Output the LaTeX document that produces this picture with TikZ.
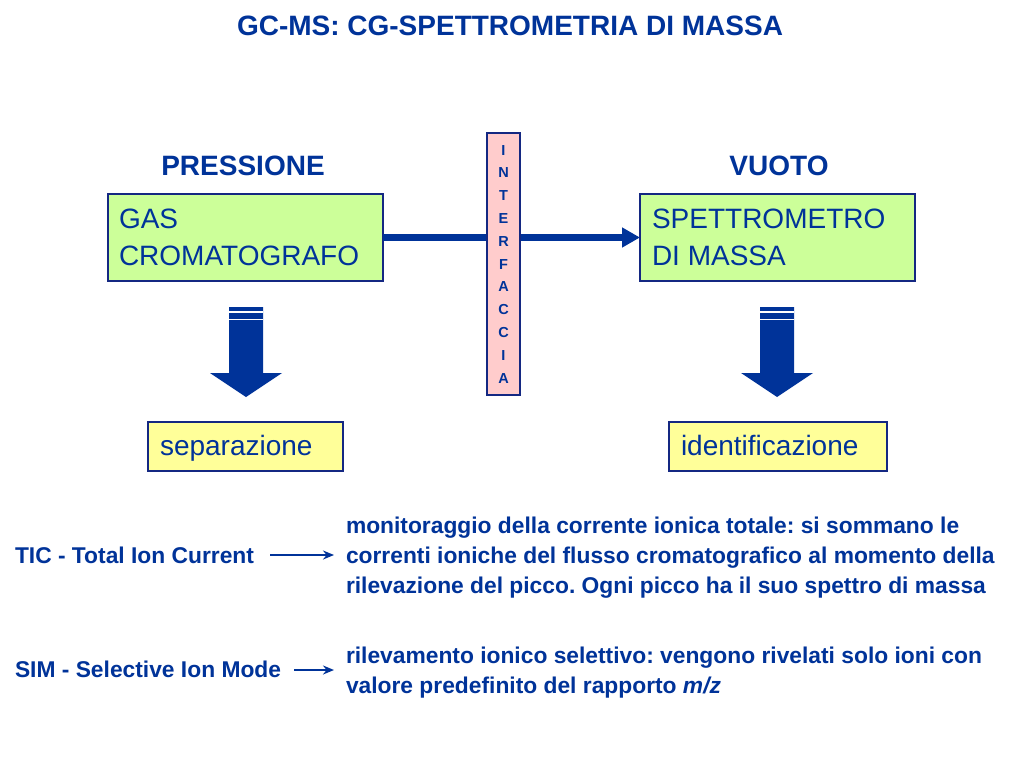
\documentclass[tikz,border=0pt]{standalone}
\usepackage{fontspec}
\setmainfont{Liberation Sans}
\usetikzlibrary{arrows.meta}
\frenchspacing
\definecolor{tblue}{RGB}{0,51,153}
\definecolor{bblue}{RGB}{20,40,130}
\definecolor{boxgreen}{RGB}{204,255,153}
\definecolor{boxyellow}{RGB}{255,255,153}
\definecolor{boxpink}{RGB}{255,204,204}
\tikzset{
  every node/.style={text=tblue, inner sep=0pt, outer sep=0pt},
  bigbox/.style={draw=bblue, line width=2pt, fill=boxgreen, minimum width=275pt, minimum height=87pt, anchor=north west},
  resbox/.style={draw=bblue, line width=2pt, fill=boxyellow, minimum height=49pt, anchor=north west},
  boxtxt/.style={anchor=base west, font=\fontsize{28}{32}\selectfont},
  headtxt/.style={anchor=base, font=\fontsize{28}{32}\selectfont\bfseries},
  bodytxt/.style={anchor=base west, font=\fontsize{22.8}{26}\selectfont\bfseries},
  iftxt/.style={anchor=base, font=\fontsize{14.5}{16}\selectfont\bfseries},
  blockarrow/.style={fill=tblue, draw=none},
  thinarrow/.style={draw=tblue, line width=2pt, -{Stealth[length=11pt,width=9pt]}},
}
\begin{document}
\begin{tikzpicture}[x=1pt,y=-1pt]
\useasboundingbox (0,0) rectangle (1024,768);
\fill[white] (0,0) rectangle (1024,768);

% title
\node[headtxt] (title) at (510,36) {GC-MS: CG-SPETTROMETRIA DI MASSA};
\node[headtxt] (press) at (243,175) {PRESSIONE};
\node[headtxt] (vuoto) at (779,175) {VUOTO};

% main boxes
\node[bigbox] (gc) at (108,194) {};
\node[bigbox] (ms) at (640,194) {};
\node[boxtxt] (gc1) at (119,228) {GAS};
\node[boxtxt] (gc2) at (119,265) {CROMATOGRAFO};
\node[boxtxt] (ms1) at (652,228) {SPETTROMETRO};
\node[boxtxt] (ms2) at (652,265) {DI MASSA};

% connector
\draw[draw=tblue, line width=7pt, -{Triangle[length=18pt,width=19pt]}] (gc.east) -- (ms.west);

% interface
\node[draw=bblue, line width=2pt, fill=boxpink, minimum width=33pt, minimum height=262pt, anchor=north west] (iface) at (487,133) {};
\foreach \l [count=\i from 0] in {I,N,T,E,R,F,A,C,C,I,A} {
  \node[iftxt] (if\i) at (503.5,155+22.8*\i) {\l};
}

% block arrows
\foreach \dx/\nm in {0/la,531/ra} {
  \begin{scope}[xshift=\dx pt]
    \fill[blockarrow] (229,307) -- (263,307) -- (263,373) -- (282,373) -- (246,397) -- (210,373) -- (229,373) -- cycle;
    \draw[white, line width=1.5pt] (229,312) -- (263,312);
    \draw[white, line width=1.5pt] (229,319.5) -- (263,319.5);
    \coordinate (\nm) at (246,397);
  \end{scope}
}

% result boxes
\node[resbox, minimum width=195pt] (sep) at (148,422) {};
\node[resbox, minimum width=218pt] (idf) at (669,422) {};
\node[boxtxt] (septxt) at (160,455) {separazione};
\node[boxtxt] (idftxt) at (681,455) {identificazione};

% TIC
\node[bodytxt] (tic) at (15,563) {TIC - Total Ion Current};
\node[bodytxt] (t1) at (346,533) {monitoraggio della corrente ionica totale: si sommano le};
\node[bodytxt] (t2) at (346,563) {correnti ioniche del flusso cromatografico al momento della};
\node[bodytxt] (t3) at (346,593) {rilevazione del picco. Ogni picco ha il suo spettro di massa};
\coordinate (ticS) at (270,555);
\coordinate (ticE) at (334,555);
\draw[thinarrow] (ticS) -- (ticE);

% SIM
\node[bodytxt] (sim) at (15,677) {SIM - Selective Ion Mode};
\node[bodytxt] (s1) at (346,663) {rilevamento ionico selettivo: vengono rivelati solo ioni con};
\node[bodytxt] (s2) at (346,693) {valore predefinito del rapporto \textit{m/z}};
\coordinate (simS) at (294,670);
\coordinate (simE) at (334,670);
\draw[thinarrow] (simS) -- (simE);
\end{tikzpicture}
\end{document}
